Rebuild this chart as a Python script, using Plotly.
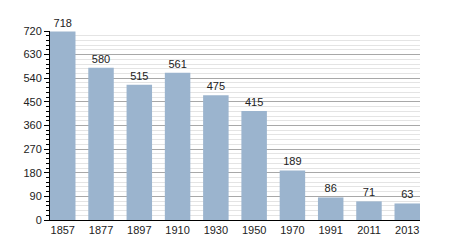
import plotly.graph_objects as go

years = ["1857", "1877", "1897", "1910", "1930", "1950", "1970", "1991", "2011", "2013"]
population = [718, 580, 515, 561, 475, 415, 189, 86, 71, 63]
y_ticks = [0, 90, 180, 270, 360, 450, 540, 630, 720]

fig = go.Figure(go.Bar(
    x=years, y=population,
    marker=dict(color="#9bb4ce", line=dict(width=0)),
    text=[str(v) for v in population], textposition="outside",
    textfont=dict(size=11, color="#222"), cliponaxis=False,
))
fig.update_layout(
    width=450, height=250,
    margin=dict(l=50, r=30, t=31, b=30),
    paper_bgcolor="white", plot_bgcolor="white",
    font=dict(family="Liberation Sans, Arial, sans-serif", size=11, color="#222"),
    bargap=0.334, showlegend=False,
)
fig.update_xaxes(
    type="category", range=[-0.333, 9.333],
    showline=True, linecolor="black", linewidth=1,
    ticks="", showgrid=False, tickfont=dict(size=11),
)
fig.update_yaxes(
    range=[0, 720], tickvals=y_ticks, showline=True, linecolor="black", linewidth=1,
    ticks="outside", ticklen=5, tickcolor="black",
    showgrid=True, gridcolor="#a8a8a8", gridwidth=1,
    minor=dict(dtick=18, showgrid=True, gridcolor="#e4e4e4", ticks="outside",
               ticklen=3, tickcolor="black"),
    zeroline=False, tickfont=dict(size=11),
)
fig.write_html("out.html")
